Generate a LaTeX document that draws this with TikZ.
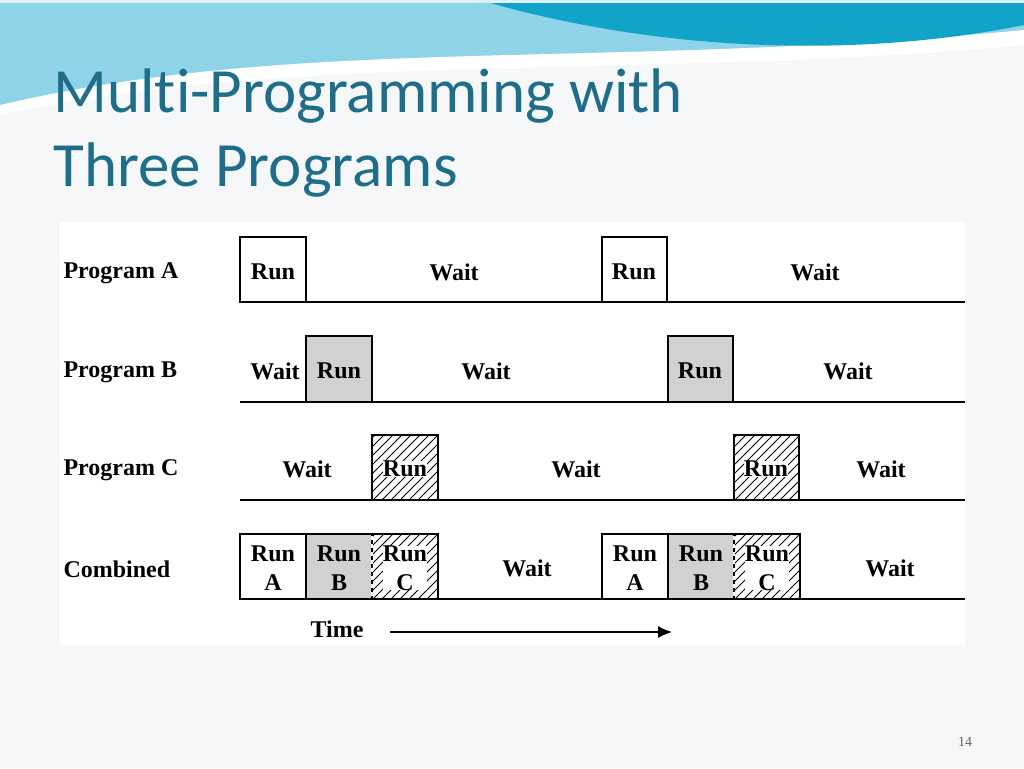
\documentclass[tikz,border=0pt]{standalone}
\usepackage{fontspec}
\setmainfont{Liberation Serif}
\newfontfamily\titlefont[Ligatures={NoCommon,NoRare,NoContextual}]{Carlito}
\usetikzlibrary{arrows.meta}
\definecolor{bg}{HTML}{F6F7F9}
\definecolor{teal1}{HTML}{1E6E8A}
\definecolor{wave1}{HTML}{8FD3E8}
\definecolor{wave2}{HTML}{12A4C8}
\newcommand{\myhatch}[4]{%
  \begin{scope}\clip (#1,#2) rectangle (#3,#4);
  \foreach \k in {-80,-71,...,80}{\draw[line width=1pt] (#1+\k,#4) -- ++(70,-70);}
  \end{scope}}
\begin{document}
\begin{tikzpicture}[x=1pt,y=-1pt,
  lbl/.style={font=\bfseries\fontsize{24}{24}\selectfont,anchor=west},
  txt/.style={font=\bfseries\fontsize{24}{24}\selectfont},
  two/.style={align=center,font=\bfseries\fontsize{24}{29}\selectfont},
  runbox/.style={draw,line width=1.4pt},
  line/.style={line width=1.4pt}]
\useasboundingbox (0,0) rectangle (1024,768);
\fill[bg] (0,0) rectangle (1024,768);
% header waves
\fill[wave1] (0,0) -- (1024,0) -- (1024,40) .. controls (700,80) and (300,40) .. (0,110) -- cycle;
\fill[white] (0,105) .. controls (300,35) and (600,70) .. (1024,30) -- (1024,45) .. controls (650,80) and (300,50) .. (0,115) -- cycle;
\fill[wave2] (480,0) -- (1024,0) -- (1024,25) .. controls (850,60) and (650,50) .. (480,0) -- cycle;
\fill[white!70!wave1] (0,0) rectangle (1024,3);
% title
\node[anchor=west,text=teal1,font=\titlefont\fontsize{63}{63}\selectfont] (t1) at (50,96) {Multi-Programming with};
\node[anchor=west,text=teal1,font=\titlefont\fontsize{63}{63}\selectfont] (t2) at (50,170) {Three Programs};
% panel
\fill[white] (60,222) rectangle (965,645);
% labels
\node[lbl] (la) at (60,273) {Program A};
\node[lbl] (lb) at (60,372) {Program B};
\node[lbl] (lc) at (60,470) {Program C};
\node[lbl] (ld) at (60,569) {Combined};
% row A
\draw[line] (240,302) -- (965,302);
\draw[runbox] (240,237) rectangle (306,302);
\draw[runbox] (602,237) rectangle (667,302);
\node[txt] (a1) at (273,272) {Run};
\node[txt] (a2) at (454,272) {Wait};
\node[txt] (a3) at (634,272) {Run};
\node[txt] (a4) at (815,272) {Wait};
% row B
\draw[line] (240,402) -- (965,402);
\draw[runbox,fill=black!18] (306,336) rectangle (372,402);
\draw[runbox,fill=black!18] (668,336) rectangle (733,402);
\node[txt] (b0) at (275,371) {Wait};
\node[txt] (b1) at (339,371) {Run};
\node[txt] (b2) at (486,371) {Wait};
\node[txt] (b3) at (700,371) {Run};
\node[txt] (b4) at (848,371) {Wait};
% row C
\draw[line] (240,500) -- (965,500);
\myhatch{372}{435}{438}{500}
\myhatch{734}{435}{799}{500}
\draw[runbox] (372,435) rectangle (438,500);
\draw[runbox] (734,435) rectangle (799,500);
\node[txt] (c0) at (307,469) {Wait};
\node[txt,fill=white,inner sep=0pt] (c1) at (405,469) {Run};
\node[txt] (c2) at (576,469) {Wait};
\node[txt,fill=white,inner sep=0pt] (c3) at (766,469) {Run};
\node[txt] (c4) at (881,469) {Wait};
% combined
\draw[line] (240,599) -- (965,599);
\foreach \x in {240,602}{
  \draw[runbox] (\x,534) rectangle (\x+66,599);
  \draw[runbox,fill=black!18] (\x+66,534) rectangle (\x+132,599);
  \myhatch{\x+132}{534}{\x+198}{599}
  \draw[runbox] (\x+132,534) rectangle (\x+198,599);
  \draw[white,line width=1.6pt,dash pattern=on 4pt off 4pt] (\x+132,536) -- (\x+132,597);
}
\foreach \x/\n in {240/d,602/e}{
  \node[two] (\n1) at (\x+33,568) {Run\\A};
  \node[two] (\n2) at (\x+99,568) {Run\\B};
  \node[two,fill=white,inner sep=0pt] (\n3) at (\x+165,568) {Run\\C};
}
\node[txt] (w1) at (527,568) {Wait};
\node[txt] (w2) at (890,568) {Wait};
% time
\node[txt] (time) at (337,629) {Time};
\coordinate (ts) at (390,632);
\coordinate (te) at (672,632);
\draw[line,-{Latex[length=14pt,width=12pt]}] (ts) -- (te);
\node[font=\fontsize{14}{14}\selectfont,text=black!60] (pg) at (965,742) {14};
\end{tikzpicture}
\end{document}
